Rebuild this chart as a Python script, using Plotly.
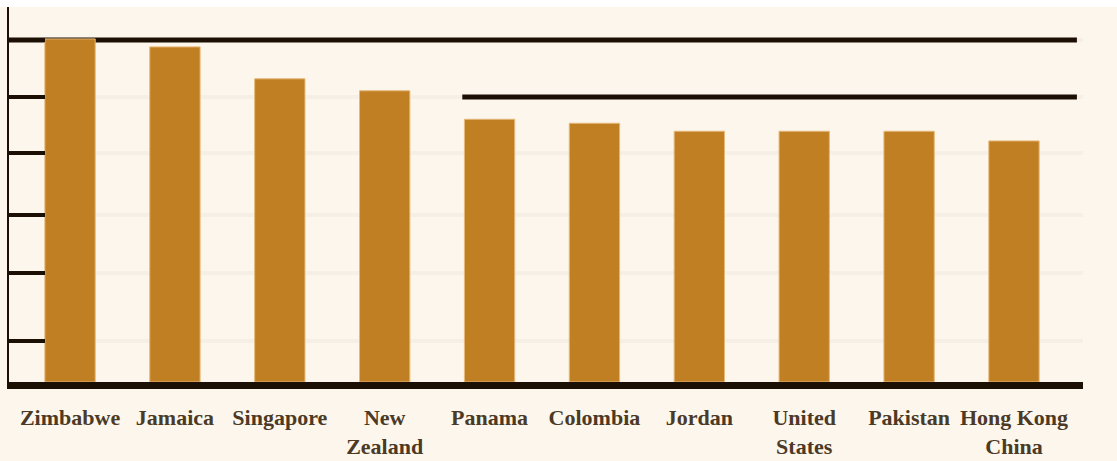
import plotly.graph_objects as go

countries = ["Zimbabwe", "Jamaica", "Singapore", "New<br>Zealand", "Panama",
             "Colombia", "Jordan", "United<br>States", "Pakistan", "Hong Kong<br>China"]
values = [60.2, 58.8, 53.2, 51.1, 46.1, 45.4, 44.0, 44.0, 44.0, 42.3]
tick_vals = [7.2, 19.1, 29.3, 40.2, 50.0, 60.0]

DARK = "#1c1005"
BAR = "#c17f24"
BG = "#fdf6ed"

fig = go.Figure()
fig.add_trace(go.Bar(
    x=countries, y=values, width=0.48,
    marker=dict(color=BAR, line=dict(color="#e6b979", width=1)),
    hoverinfo="skip",
))

# dark reference lines behind the bars (above the grid)
fig.add_shape(type="line", xref="x", yref="y", x0=-0.582, x1=9.6, y0=tick_vals[-1], y1=tick_vals[-1],
              line=dict(color=DARK, width=5), layer="between")
fig.add_shape(type="line", xref="x", yref="y", x0=3.74, x1=9.6, y0=tick_vals[-2], y1=tick_vals[-2],
              line=dict(color=DARK, width=5), layer="between")
# white band at the very top
fig.add_shape(type="rect", xref="paper", yref="paper", x0=-0.05, x1=1.05, y0=1.0, y1=1.03,
              fillcolor="white", line=dict(width=0), layer="above")

fig.update_layout(
    width=1117, height=461,
    margin=dict(l=9, r=34, t=7, b=79),
    paper_bgcolor=BG, plot_bgcolor=BG,
    showlegend=False,
    bargap=0.52,
    xaxis=dict(
        type="category", range=[-0.582, 9.658],
        showline=True, linecolor=DARK, linewidth=7,
        showgrid=False, ticks="",
        tickfont=dict(family="Liberation Serif", size=22, color="#4b3a26", weight="bold"),
        ticklabelstandoff=10,
        tickangle=0,
        automargin=False,
    ),
    yaxis=dict(
        range=[0, 65.8],
        showline=True, linecolor=DARK, linewidth=2,
        tickvals=tick_vals, showticklabels=False,
        ticks="inside", ticklen=36, tickwidth=4, tickcolor=DARK,
        showgrid=True, gridcolor="#f6efe6", gridwidth=4,
        zeroline=False,
        automargin=False,
    ),
)

fig.write_html("out.html")
